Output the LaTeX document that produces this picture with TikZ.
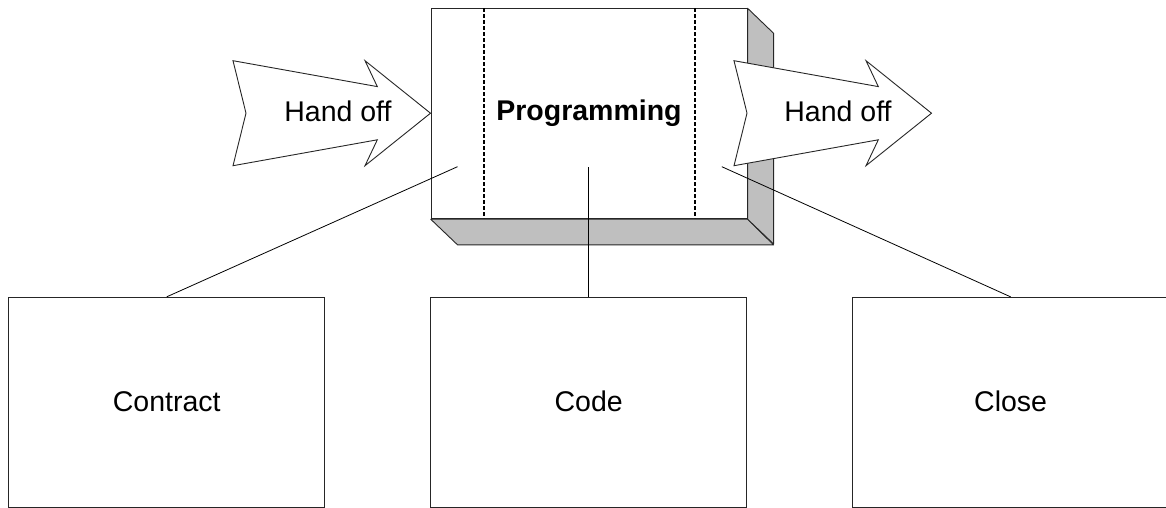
\documentclass[tikz,border=0pt]{standalone}
\usepackage{fontspec}
\setmainfont{Liberation Sans}
\begin{document}
\begin{tikzpicture}[x=1pt,y=-1pt,
  line/.style={draw=black!85,line width=0.9pt},
  phasebox/.style={line,fill=white,inner sep=0pt,minimum width=316pt,minimum height=210pt},
  shade/.style={line,fill=black!25,line join=round},
  divider/.style={draw=black,line width=1.2pt,dash pattern=on 4pt off 2pt},
  handoff/.style={line,fill=white,line join=miter},
  label/.style={font=\fontsize{28.5}{34}\selectfont,anchor=base,inner sep=0pt},
  link/.style={draw=black,line width=0.8pt}]
\useasboundingbox (0,0) rectangle (1166,508);

% raised block: front face and its depth
\node[phasebox,anchor=north west] (prog) at (430.7,8.3) {};
\path[shade] (prog.south west) -- (prog.south east) -- ++(26,25.7) -- ++(-316,0) -- cycle;
\path[shade] (prog.north east) -- ++(26,25) -- ++(0,210.7) -- (prog.south east) -- cycle;

% stage dividers
\draw[divider] (484,8.3) -- (484,218.3);
\draw[divider] (695,8.3) -- (695,218.3);
\node[label,font=\fontsize{28.5}{34}\selectfont\bfseries] (title) at (589,120.7) {Programming};

% notched hand-off arrows
\path[handoff] (233,60.7) -- (377.3,86.6) -- (365,60.7) -- (430.5,113.2)
  -- (365,165.7) -- (377.3,139.8) -- (233,165.7) -- (246,113.2) -- cycle;
\node[label] (inlbl) at (338,121.7) {Hand off};
\path[handoff] (734,60.7) -- (878.3,86.6) -- (866,60.7) -- (931.5,113.2)
  -- (866,165.7) -- (878.3,139.8) -- (734,165.7) -- (747,113.2) -- cycle;
\node[label] (outlbl) at (838,121.7) {Hand off};

% sub-phases
\node[phasebox] (contract) at (166.7,402.3) {};
\node[phasebox] (code) at (588.7,402.3) {};
\node[phasebox] (close) at (1010.6,402.3) {};
\node[label] (contractlbl) at (contract.center) [yshift=-9.4pt] {Contract};
\node[label] (codelbl) at (code.center) [yshift=-9.4pt] {Code};
\node[label] (closelbl) at (close.center) [yshift=-9.4pt] {Close};

% links from the block to each sub-phase
\coordinate (pa) at (457.5,166.7);
\coordinate (pb) at (588.7,166.7);
\coordinate (pc) at (721.8,166.7);
\draw[link] (contract.north) -- (pa);
\draw[link] (code.north) -- (pb);
\draw[link] (close.north) -- (pc);
\end{tikzpicture}
\end{document}
